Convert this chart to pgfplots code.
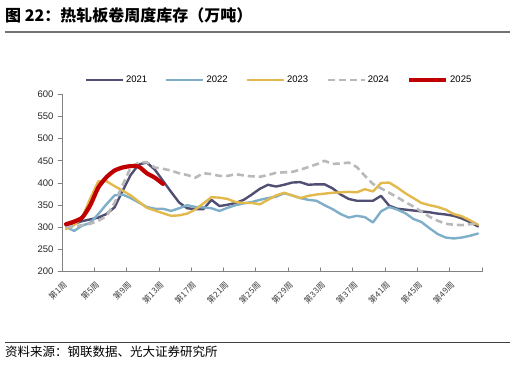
\documentclass[border=0pt]{standalone}
\usepackage{pgfplots}
\pgfplotsset{compat=1.18}
\usepackage{fontspec}
\setmainfont{Liberation Sans}
\newfontfamily\cjk{Noto Sans CJK SC}
\definecolor{c21}{RGB}{80,78,115}
\definecolor{c22}{RGB}{127,175,200}
\definecolor{c23}{RGB}{226,185,76}
\definecolor{c24}{RGB}{185,185,185}
\definecolor{c25}{RGB}{192,0,0}
\definecolor{axgray}{RGB}{130,130,130}
\begin{document}
\begin{tikzpicture}
\begin{axis}[
  name=ax, scale only axis,
  width=420pt, height=177.4pt,
  xmin=0.5, xmax=52.5, ymin=200, ymax=600,
  ytick={200,250,...,600},
  xtick={0.5,4.5,...,52.5},
  xticklabels={第1周,第5周,第9周,第13周,第17周,第21周,第25周,第29周,第33周,第37周,第41周,第45周,第49周,},
  axis x line*=bottom, axis y line*=left,
  axis line style={axgray, line width=0.9pt},
  tick align=inside, major tick length=4pt,
  tick style={axgray, line width=0.8pt},
  ytick style={xshift=-4pt},
  /pgf/number format/assume math mode=true,
  yticklabel style={font=\fontsize{9.5}{10}\selectfont, text=black!85, xshift=-5pt},
  xticklabel style={font=\cjk\fontsize{8.3}{9}\selectfont, text=black!75, xshift=4pt, yshift=-11pt, rotate=45, anchor=east, inner sep=1pt},
  legend columns=5,
  legend style={at={(0.5167,1.0806)}, anchor=center, draw=none, fill=none,
    font=\fontsize{9.5}{10}\selectfont,
    /tikz/every even column/.append style={column sep=16pt}},
  legend image code/.code={\draw[#1] (0pt,0pt) -- (37pt,0pt);},
  line join=round, line cap=round,
]
\addplot[c21, line width=2.4pt, mark=none] coordinates {
(1,303)(2,308)(3,314)(4,318)(5,322)(6,330)(7,345)(8,382)(9,418)(10,442)(11,446)(12,430)(13,405)(14,380)(15,356)(16,343)(17,341)(18,341)(19,362)(20,348)(21,351)(22,355)(23,362)(24,374)(25,387)(26,396)(27,392)(28,396)(29,401)(30,402)(31,396)(32,397)(33,397)(34,388)(35,374)(36,364)(37,360)(38,360)(39,360)(40,371)(41,349)(42,342)(43,340)(44,338)(45,336)(46,334)(47,331)(48,329)(49,326)(50,320)(51,312)(52,302)};
\addlegendentry{2021}
\addplot[c22, line width=2.4pt, mark=none] coordinates {
(1,301)(2,292)(3,304)(4,310)(5,330)(6,352)(7,372)(8,374)(9,366)(10,356)(11,346)(12,342)(13,342)(14,337)(15,343)(16,350)(17,346)(18,345)(19,343)(20,337)(21,344)(22,350)(23,354)(24,357)(25,362)(26,366)(27,369)(28,377)(29,372)(30,366)(31,362)(32,360)(33,350)(34,341)(35,330)(36,322)(37,326)(38,323)(39,311)(40,336)(41,346)(42,340)(43,332)(44,319)(45,312)(46,298)(47,285)(48,277)(49,275)(50,277)(51,281)(52,286)};
\addlegendentry{2022}
\addplot[c23, line width=2.4pt, mark=none] coordinates {
(1,296)(2,305)(3,322)(4,365)(5,404)(6,404)(7,393)(8,383)(9,372)(10,358)(11,344)(12,338)(13,332)(14,326)(15,327)(16,331)(17,340)(18,354)(19,368)(20,367)(21,364)(22,357)(23,355)(24,355)(25,352)(26,362)(27,372)(28,378)(29,372)(30,366)(31,371)(32,374)(33,376)(34,378)(35,379)(36,380)(37,379)(38,386)(39,381)(40,400)(41,401)(42,390)(43,377)(44,366)(45,355)(46,350)(47,346)(48,340)(49,330)(50,325)(51,316)(52,306)};
\addlegendentry{2023}
\addplot[c24, line width=2.6pt, dash pattern=on 7pt off 4pt, line cap=butt, mark=none] coordinates {
(1,302)(2,302)(3,305)(4,308)(5,315)(6,325)(7,355)(8,395)(9,435)(10,446)(11,447)(12,435)(13,432)(14,428)(15,422)(16,418)(17,412)(18,422)(19,420)(20,416)(21,416)(22,420)(23,417)(24,415)(25,414)(26,418)(27,423)(28,424)(29,425)(30,430)(31,436)(32,442)(33,450)(34,443)(35,444)(36,446)(37,436)(38,416)(39,398)(40,388)(41,378)(42,368)(43,357)(44,347)(45,336)(46,324)(47,315)(48,308)(49,306)(50,305)(51,307)(52,309)};
\addlegendentry{2024}
\addplot[c25, line width=4.2pt, mark=none, smooth, tension=0.4] coordinates {
(1,307)(2,313)(3,322)(4,350)(5,390)(6,413)(7,428)(8,435)(9,438)(10,437)(11,422)(12,412)(13,398)};
\addlegendentry{2025}
\end{axis}
\begin{scope}[shift={(ax.south west)}, x=1pt, y=1pt]
\path[use as bounding box] (-62,-92.3) rectangle (454,271.7);
\node[anchor=base west, inner sep=0] at (-57,249.7) {\cjk\bfseries\fontsize{16}{16}\selectfont 图 22：热轧板卷周度库存（万吨）};
\draw[line width=1.3pt, color=black!55] (-57,239.7) -- (448,239.7);
\draw[line width=0.6pt, color=black!75] (-57,-70.8) -- (448,-70.8);
\node[anchor=base west, inner sep=0] at (-57,-84.3) {\cjk\fontsize{12.5}{12.5}\selectfont 资料来源：钢联数据、光大证券研究所};
\end{scope}
\end{tikzpicture}
\end{document}
